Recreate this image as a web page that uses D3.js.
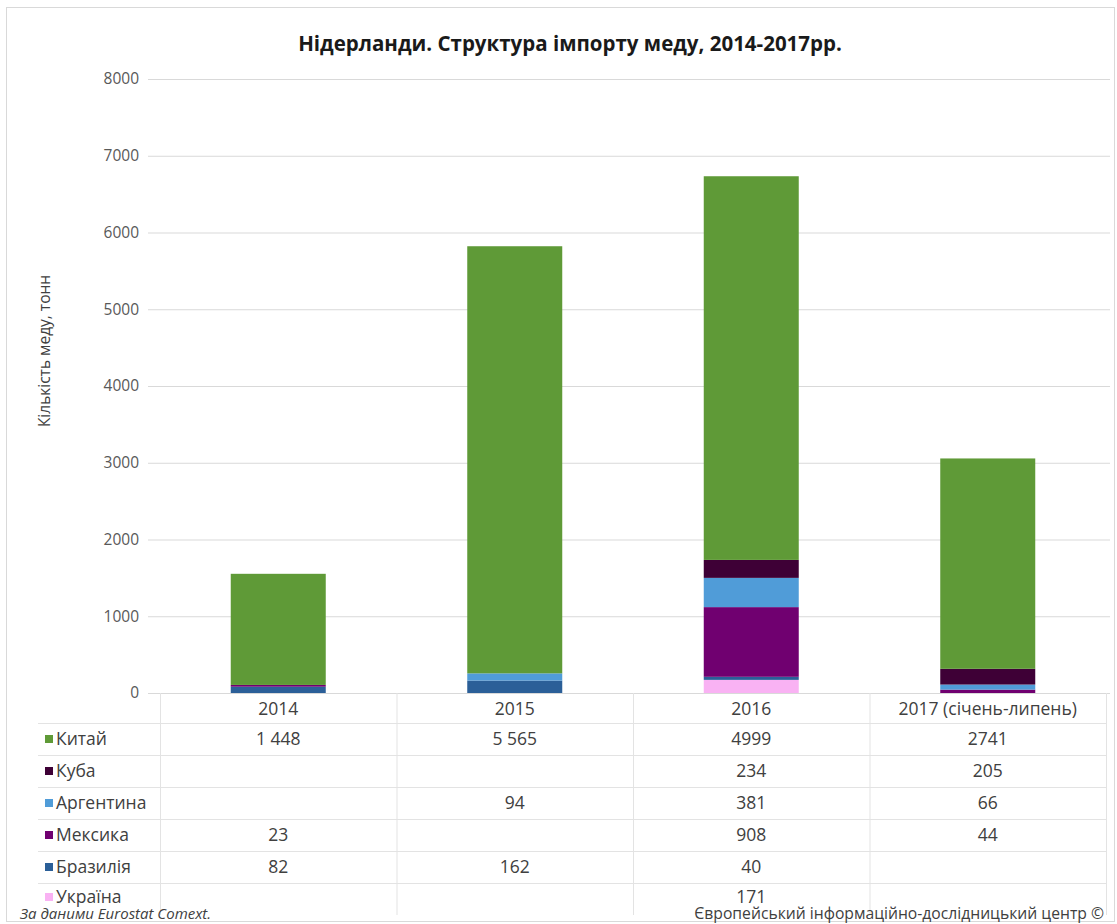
<!DOCTYPE html>
<html>
<head>
<meta charset="utf-8">
<script src="https://cdn.jsdelivr.net/npm/d3@7"></script>
<style>
  body { margin: 0; background: #fff; }
  text { font-family: "Open Sans", Lato, sans-serif; }
</style>
</head>
<body>
<svg width="1117" height="924"></svg>
<script>
// years on the x axis (also the table header)
const years = ["2014", "2015", "2016", "2017 (січень-липень)"];

// series, listed as in the table (top of stack first)
const countries = ["Китай", "Куба", "Аргентина", "Мексика", "Бразилія", "Україна"];
const colors = ["#5f9a37", "#3e0036", "#509cd8", "#700070", "#2b5f98", "#f9b2f3"];

// tonnes per year, null = empty cell
const china     = [1448, 5565, 4999, 2741];
const cuba      = [null, null, 234, 205];
const argentina = [null, 94, 381, 66];
const mexico    = [23, null, 908, 44];
const brazil    = [82, 162, 40, null];
const ukraine   = [null, null, 171, null];
const series = [china, cuba, argentina, mexico, brazil, ukraine];

const yTicks = [0, 1000, 2000, 3000, 4000, 5000, 6000, 7000, 8000];
// excel showed a thousands space only in these columns
const spacedCols = ["2014", "2015"];

const svg = d3.select("svg");

// frame round the chart
svg.append("rect")
  .attr("x", 6.5).attr("y", 7.5)
  .attr("width", 1108).attr("height", 914)
  .attr("fill", "#fff").attr("stroke", "#d9d9d9");

svg.append("text")
  .attr("x", 570).attr("y", 51)
  .attr("text-anchor", "middle")
  .attr("font-size", 20.5).attr("font-weight", "bold")
  .attr("fill", "#1a1a1a")
  .text("Нідерланди. Структура імпорту меду, 2014-2017рр.");

const x = d3.scaleBand().domain(years).range([160, 1106]).paddingInner(0).paddingOuter(0);
const y = d3.scaleLinear().domain([0, 8000]).range([693, 79]);
const barW = 95;

// grid
svg.append("g").selectAll("line")
  .data(yTicks)
  .join("line")
    .attr("x1", 148).attr("x2", 1110)
    .attr("y1", d => y(d) + 0.5).attr("y2", d => y(d) + 0.5)
    .attr("stroke", "#d9d9d9");

// axis labels via d3 axis, line hidden
const yAxis = svg.append("g")
  .attr("transform", "translate(139,0)")
  .call(d3.axisLeft(y).tickValues(yTicks).tickSize(0).tickPadding(0).tickFormat(d3.format("d")));
yAxis.select(".domain").remove();
yAxis.selectAll("text")
  .attr("font-family", "'Open Sans', Lato, sans-serif")
  .attr("font-size", 15.5).attr("fill", "#595959");

svg.append("text")
  .attr("transform", "translate(50,351) rotate(-90)")
  .attr("text-anchor", "middle")
  .attr("font-size", 15.5).attr("fill", "#404040")
  .text("Кількість меду, тонн");

// stack bottom-up: Україна first
const rows = years.map((yr, i) => {
  const r = {year: yr};
  countries.forEach((c, j) => { r[c] = series[j][i] || 0; });
  return r;
});
const stack = d3.stack().keys(countries.slice().reverse());
const layers = stack(rows);

svg.append("g").selectAll("g")
  .data(layers)
  .join("g")
    .attr("fill", d => colors[countries.indexOf(d.key)])
  .selectAll("rect")
  .data(d => d)
  .join("rect")
    .attr("x", d => x(d.data.year) + x.bandwidth() / 2 - barW / 2)
    .attr("width", barW)
    .attr("y", d => y(d[1]))
    .attr("height", d => y(d[0]) - y(d[1]));

// data table under the plot
const headTop = 693, headH = 30, rowH = 32;
const tableBottom = headTop + headH + rowH * countries.length;
const tableRight = x.range()[1];
const tbl = svg.append("g");

// vertical cell borders
tbl.selectAll(".vline")
  .data(years.concat(["end"]))
  .join("line")
    .attr("x1", (d, i) => i < years.length ? x(d) + 0.5 : tableRight + 0.5)
    .attr("x2", (d, i) => i < years.length ? x(d) + 0.5 : tableRight + 0.5)
    .attr("y1", headTop).attr("y2", tableBottom)
    .attr("stroke", "#e3e3e3");

// horizontal row borders
tbl.selectAll(".hline")
  .data(d3.range(countries.length))
  .join("line")
    .attr("x1", 38).attr("x2", tableRight)
    .attr("y1", i => headTop + headH + i * rowH + 0.5)
    .attr("y2", i => headTop + headH + i * rowH + 0.5)
    .attr("stroke", "#e3e3e3");

tbl.selectAll(".head")
  .data(years)
  .join("text")
    .attr("x", d => x(d) + x.bandwidth() / 2)
    .attr("y", headTop + 22)
    .attr("text-anchor", "middle")
    .attr("font-size", 17.5).attr("fill", "#404040")
    .text(d => d);

const spaced = d3.formatLocale({decimal: ",", thousands: " ", grouping: [3]}).format(",d");

countries.forEach((c, j) => {
  const cy = headTop + headH + j * rowH + rowH / 2 - (j === countries.length - 1 ? 2 : 0);
  tbl.append("rect")
    .attr("x", 45).attr("y", cy - 4)
    .attr("width", 8).attr("height", 8)
    .attr("fill", colors[j]);
  tbl.append("text")
    .attr("x", 56).attr("y", cy + 6)
    .attr("font-size", 17.5).attr("fill", "#404040")
    .text(c);
  tbl.selectAll(null)
    .data(series[j].map((v, i) => ({v, yr: years[i]})).filter(d => d.v != null))
    .join("text")
      .attr("x", d => x(d.yr) + x.bandwidth() / 2)
      .attr("y", cy + 6)
      .attr("text-anchor", "middle")
      .attr("font-size", 17.5).attr("fill", "#404040")
      .text(d => spacedCols.includes(d.yr) ? spaced(d.v) : String(d.v));
});

// source notes
svg.append("text")
  .attr("x", 20).attr("y", 919)
  .attr("font-size", 15).attr("font-style", "italic").attr("fill", "#404040")
  .text("За даними Eurostat Comext.");
svg.append("text")
  .attr("x", 1104).attr("y", 919)
  .attr("text-anchor", "end")
  .attr("font-size", 15.7).attr("fill", "#404040")
  .text("Європейський інформаційно-дослідницький центр ©");
</script>
</body>
</html>
